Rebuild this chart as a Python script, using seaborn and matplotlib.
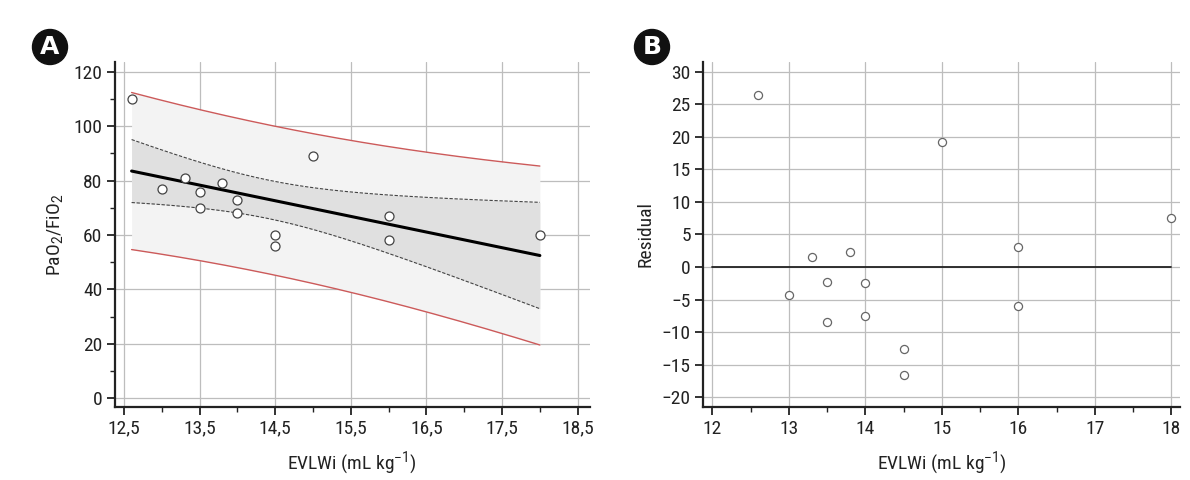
import numpy as np
import pandas as pd
import matplotlib
matplotlib.use('Agg')
import matplotlib.pyplot as plt
import seaborn as sns
from matplotlib.ticker import MultipleLocator, FixedLocator

# DATA
evlwi = [12.6, 13.0, 13.3, 13.5, 13.5, 13.8, 14.0, 14.0, 14.5, 14.5, 15.0, 16.0, 16.0, 18.0]
pf_ratio = [110, 77, 81, 76, 70, 79, 73, 68, 60, 56, 89, 67, 58, 60]

xticks_a = [12.5, 13.5, 14.5, 15.5, 16.5, 17.5, 18.5]
xticklabels_a = ['12,5', '13,5', '14,5', '15,5', '16,5', '17,5', '18,5']
yticks_a = [0, 20, 40, 60, 80, 100, 120]
xticks_b = [12, 13, 14, 15, 16, 17, 18]
yticks_b = [-20, -15, -10, -5, 0, 5, 10, 15, 20, 25, 30]

t_crit = 2.179  # t(0.975, df=12)

df = pd.DataFrame({'evlwi': evlwi, 'pf': pf_ratio})

# LINEAR FIT + BANDS
x = df['evlwi'].to_numpy()
y = df['pf'].to_numpy()
n = len(x)
slope, intercept = np.polyfit(x, y, 1)
df['fit'] = intercept + slope * x
df['resid'] = y - df['fit']
s = np.sqrt(np.sum(df['resid'] ** 2) / (n - 2))
sxx = np.sum((x - x.mean()) ** 2)

xg = np.linspace(x.min(), x.max(), 200)
yg = intercept + slope * xg
ci = t_crit * s * np.sqrt(1 / n + (xg - x.mean()) ** 2 / sxx)
pi = t_crit * s * np.sqrt(1 + 1 / n + (xg - x.mean()) ** 2 / sxx)

# STYLE
sns.set_style('ticks')
plt.rcParams['font.family'] = ['Liberation Sans Narrow', 'Roboto Condensed', 'Roboto', 'DejaVu Sans']
plt.rcParams['mathtext.fontset'] = 'custom'
plt.rcParams['mathtext.rm'] = 'Roboto'
plt.rcParams['mathtext.it'] = 'Roboto:italic'

fig = plt.figure(figsize=(11.9, 4.8), dpi=100)
ax1 = fig.add_axes([0.0966, 0.152, 0.399, 0.719])
ax2 = fig.add_axes([0.591, 0.152, 0.401, 0.719])

grid_kw = dict(color='#bdbdbd', linewidth=0.9, zorder=0)

def style_axis(ax):
    sns.despine(ax=ax)
    for sp in ['left', 'bottom']:
        ax.spines[sp].set_linewidth(1.6)
        ax.spines[sp].set_color('#222222')
    ax.tick_params(which='major', length=6, width=1.3, color='#222222',
                   labelsize=14, labelcolor='#222222', pad=3)
    ax.tick_params(which='minor', length=3.5, width=1.0, color='#222222')
    ax.grid(True, which='major', **grid_kw)
    ax.set_axisbelow(True)

# PANEL A
ax1.fill_between(xg, yg - pi, yg + pi, color='#f3f3f3', linewidth=0, zorder=1)
ax1.fill_between(xg, yg - ci, yg + ci, color='#e0e0e0', linewidth=0, zorder=2)
ax1.plot(xg, yg + pi, color='#cc5a5a', linewidth=1.0, zorder=3)
ax1.plot(xg, yg - pi, color='#cc5a5a', linewidth=1.0, zorder=3)
ax1.plot(xg, yg + ci, color='#444444', linewidth=0.8, linestyle=(0, (3, 1.5)), zorder=3)
ax1.plot(xg, yg - ci, color='#444444', linewidth=0.8, linestyle=(0, (3, 1.5)), zorder=3)
ax1.plot(xg, yg, color='black', linewidth=2.2, zorder=4)
sns.scatterplot(data=df, x='evlwi', y='pf', ax=ax1, s=42, facecolor='white',
                edgecolor='#444444', linewidth=0.9, zorder=5)

ax1.set_xlim(12.38, 18.66)
ax1.set_ylim(-3.3, 123.7)
ax1.xaxis.set_major_locator(FixedLocator(xticks_a))
ax1.set_xticklabels(xticklabels_a)
ax1.xaxis.set_minor_locator(MultipleLocator(0.5))
ax1.yaxis.set_major_locator(FixedLocator(yticks_a))
ax1.yaxis.set_minor_locator(MultipleLocator(10))
style_axis(ax1)
ax1.set_xlabel(r'EVLWi (mL kg$^{-1}$)', fontsize=14, color='#222222', labelpad=9)
ax1.set_ylabel(r'PaO$_2$/FiO$_2$', fontsize=14, color='#222222', labelpad=6)

# PANEL B
ax2.axhline(0, xmin=(12 - 11.88) / (18.12 - 11.88), xmax=(18 - 11.88) / (18.12 - 11.88),
            color='#222222', linewidth=1.3, zorder=3)
sns.scatterplot(data=df, x='evlwi', y='resid', ax=ax2, s=34, facecolor='white',
                edgecolor='#666666', linewidth=0.9, zorder=5)
ax2.set_xlim(11.88, 18.12)
ax2.set_ylim(-21.5, 31.5)
ax2.xaxis.set_major_locator(FixedLocator(xticks_b))
ax2.xaxis.set_minor_locator(MultipleLocator(0.5))
ax2.yaxis.set_major_locator(FixedLocator(yticks_b))
ax2.set_yticklabels([str(v).replace('-', '\u2212') for v in yticks_b])
style_axis(ax2)
ax2.set_xlabel(r'EVLWi (mL kg$^{-1}$)', fontsize=14, color='#222222', labelpad=9)
ax2.set_ylabel('Residual', fontsize=14, color='#222222', labelpad=5)

# PANEL LETTERS
for lx, lab in [(50 / 1190, 'A'), (652 / 1190, 'B')]:
    fig.text(lx, 1 - 47 / 480, lab, ha='center', va='center', color='white',
             fontsize=18, fontweight='bold', family='DejaVu Sans',
             bbox=dict(boxstyle='circle,pad=0.22', fc='#111111', ec='#111111'))

fig.savefig('out.png', dpi=100)
